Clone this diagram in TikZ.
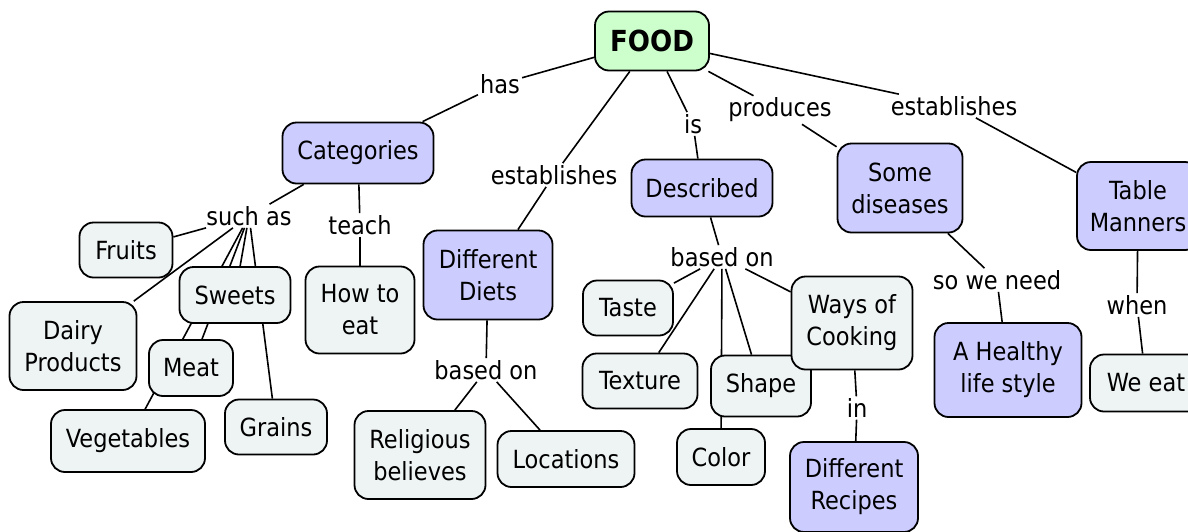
\documentclass[tikz,border=0pt]{standalone}
\usepackage{fontspec}
\setmainfont{DejaVu Sans Condensed}
\usetikzlibrary{backgrounds}

\definecolor{cmapblue}{HTML}{CCCCFF}
\definecolor{cmapgreen}{HTML}{CCFFCC}
\definecolor{cmapgrey}{HTML}{EEF3F4}

\tikzset{
  cmapbox/.style={draw, line width=1.8pt, rounded corners=14pt, align=center,
    inner sep=2pt, font=\fontsize{25}{32}\selectfont},
  cmaptopic/.style={cmapbox, fill=cmapblue},
  cmapitem/.style={cmapbox, fill=cmapgrey},
  cmaproot/.style={cmapbox, fill=cmapgreen, font=\fontsize{29}{34}\selectfont\bfseries},
  cmaplink/.style={inner sep=2pt, font=\fontsize{25}{32}\selectfont},
  cmapline/.style={line width=1.6pt}
}

\begin{document}
\begin{tikzpicture}[x=1pt, y=-1pt]
\useasboundingbox (0,0) rectangle (1188,531);

\node[cmaproot, minimum width=114pt, minimum height=59pt] (food) at (652,41) {FOOD};

\node[cmaptopic, minimum width=151pt, minimum height=61pt] (categories) at (358,153) {Categories};
\node[cmaptopic, minimum width=141pt, minimum height=57pt] (described) at (702,188) {Described};
\node[cmaptopic, minimum width=125pt, minimum height=89pt] (diseases) at (900,188) {Some\\diseases};
\node[cmaptopic, minimum width=122pt, minimum height=88pt] (manners) at (1138,206) {Table\\Manners};
\node[cmaptopic, minimum width=129pt, minimum height=89pt] (diets) at (488,275) {Different\\Diets};
\node[cmaptopic, minimum width=128pt, minimum height=90pt] (recipes) at (854,487) {Different\\Recipes};
\node[cmaptopic, minimum width=147pt, minimum height=94pt] (healthy) at (1008,370) {A Healthy\\life style};

\node[cmapitem, minimum width=93pt, minimum height=55pt] (fruits) at (126,250) {Fruits};
\node[cmapitem, minimum width=111pt, minimum height=56pt] (sweets) at (235,295) {Sweets};
\node[cmapitem, minimum width=109pt, minimum height=87pt] (howto) at (360,310) {How to\\eat};
\node[cmapitem, minimum width=127pt, minimum height=88pt] (dairy) at (73,346) {Dairy\\Products};
\node[cmapitem, minimum width=84pt, minimum height=56pt] (meat) at (191,368) {Meat};
\node[cmapitem, minimum width=154pt, minimum height=62pt] (vegetables) at (128,441) {Vegetables};
\node[cmapitem, minimum width=102pt, minimum height=55pt] (grains) at (276,427) {Grains};
\node[cmapitem, minimum width=131pt, minimum height=88pt] (religious) at (420,455) {Religious\\believes};
\node[cmapitem, minimum width=137pt, minimum height=56pt] (locations) at (566,459) {Locations};
\node[cmapitem, minimum width=90pt, minimum height=55pt] (taste) at (628,308) {Taste};
\node[cmapitem, minimum width=115pt, minimum height=55pt] (texture) at (640,381) {Texture};
\node[cmapitem, minimum width=100pt, minimum height=61pt] (shape) at (761,386) {Shape};
\node[cmapitem, minimum width=121pt, minimum height=93pt] (cooking) at (852,323) {Ways of\\Cooking};
\node[cmapitem, minimum width=88pt, minimum height=56pt] (color) at (721,457) {Color};
\node[cmapitem, minimum width=112pt, minimum height=57pt] (weeat) at (1146,383) {We eat};

\node[cmaplink] (lhas) at (500,84) {has};
\node[cmaplink] (lestl) at (554,175) {establishes};
\node[cmaplink] (lis) at (693,124) {is};
\node[cmaplink] (lproduces) at (780,110) {produces};
\node[cmaplink] (lestr) at (954,106) {establishes};
\node[cmaplink] (lsuchas) at (249,216) {such as};
\node[cmaplink] (lteach) at (360,225) {teach};
\node[cmaplink] (lbasedl) at (486,370) {based on};
\node[cmaplink] (lbasedm) at (722,257) {based on};
\node[cmaplink] (lin) at (857,408) {in};
\node[cmaplink] (lneed) at (997,280) {so we need};
\node[cmaplink] (lwhen) at (1137,305) {when};

\begin{scope}[on background layer]
\foreach \a/\b in {food/lhas, lhas/categories, food/lestl, lestl/diets, food/lis, lis/described,
    food/lproduces, lproduces/diseases, food/lestr, lestr/manners,
    categories/lsuchas, lsuchas/fruits, lsuchas/dairy, lsuchas/sweets, lsuchas/meat,
    lsuchas/vegetables, lsuchas/grains, categories/lteach, lteach/howto,
    diets/lbasedl, lbasedl/religious, lbasedl/locations,
    described/lbasedm, lbasedm/taste, lbasedm/texture, lbasedm/shape, lbasedm/color, lbasedm/cooking,
    cooking/lin, lin/recipes, diseases/lneed, lneed/healthy, manners/lwhen, lwhen/weeat}
  \draw[cmapline] (\a) -- (\b);
\end{scope}
\end{tikzpicture}
\end{document}
